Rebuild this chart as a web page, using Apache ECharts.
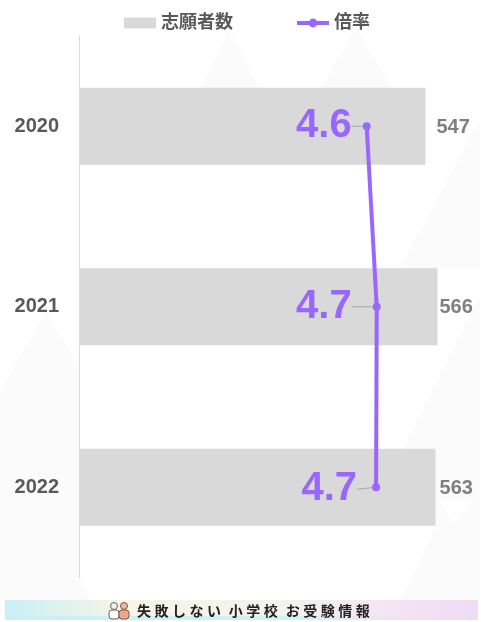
<!DOCTYPE html>
<html>
<head>
<meta charset="utf-8">
<style>
html, body { margin: 0; padding: 0; background: #fff; }
#chart { width: 481px; height: 622px; }
</style>
</head>
<body>
<div id="chart"></div>
<script src="https://cdn.jsdelivr.net/npm/echarts@6/dist/echarts.min.js"></script>
<script>
const years = ['2020', '2021', '2022'];
const applicants = [547, 566, 563];
const rates = [4.58, 4.74, 4.73];

const rateLabelGap = [7, 17, 11];
const rateLabelDrop = [0, 0, 2];
const countLabelGap = [11, 2, 4];

const FONT = '"Liberation Sans", "Noto Sans CJK JP", sans-serif';
const PURPLE = '#9966ff';

// pale mountains behind the plot
const hills = [
  [[200, 88], [229, 30], [259, 88]],
  [[322, 88], [356, 26], [391, 88]],
  [[0, 600], [0, 392], [46, 312], [80, 368], [80, 578], [88, 600]],
  [[400, 268], [480, 120], [480, 268]],
  [[480, 295], [403, 449], [436, 449], [436, 527], [400, 600], [480, 600]]
];
const notch = [[439, 500], [472, 500], [455, 525]];

const myChart = echarts.init(document.getElementById('chart'));

const bgHills = hills.map(function (points) {
  return {
    type: 'polygon',
    silent: true,
    z: -10,
    shape: { points: points },
    style: { fill: '#fbfbfb' }
  };
});
bgHills.push({
  type: 'polygon',
  silent: true,
  z: -9,
  shape: { points: notch },
  style: { fill: '#ffffff' }
});

const banner = [
  {
    type: 'rect',
    silent: true,
    shape: { x: 5, y: 600, width: 473, height: 20 },
    style: {
      fill: new echarts.graphic.LinearGradient(0, 0, 1, 0, [
        { offset: 0, color: '#c9f0f6' },
        { offset: 0.25, color: '#f8f4e6' },
        { offset: 0.6, color: '#f4f2ee' },
        { offset: 0.85, color: '#f3e2f4' },
        { offset: 1, color: '#eedcf5' }
      ])
    }
  },
  {
    type: 'rect',
    silent: true,
    shape: { x: 5, y: 616, width: 473, height: 4 },
    style: {
      fill: new echarts.graphic.LinearGradient(0, 0, 1, 0, [
        { offset: 0, color: '#c9f0f6' },
        { offset: 0.6, color: '#cff2f6' },
        { offset: 0.85, color: '#f3e2f4' },
        { offset: 1, color: '#eedcf5' }
      ])
    }
  },
  { type: 'circle', silent: true, shape: { cx: 114, cy: 606, r: 3.5 }, style: { fill: '#f4efe6', stroke: '#666', lineWidth: 1 } },
  { type: 'rect', silent: true, shape: { x: 109, y: 610, width: 10, height: 9, r: 3 }, style: { fill: '#ffffff', stroke: '#666', lineWidth: 1 } },
  { type: 'circle', silent: true, shape: { cx: 124, cy: 606, r: 3.5 }, style: { fill: '#e7b7a0', stroke: '#885544', lineWidth: 1 } },
  { type: 'rect', silent: true, shape: { x: 119, y: 610, width: 10, height: 9, r: 3 }, style: { fill: '#e9a98c', stroke: '#885544', lineWidth: 1 } },
  {
    type: 'text',
    silent: true,
    style: {
      x: 137,
      y: 610.5,
      text: '失\u2005敗\u2005し\u2005な\u2005い\u2002\u200a小\u2005学\u2005校\u2002\u200aお\u2005受\u2005験\u2005情\u2005報',
      font: 'bold 14px "Noto Sans CJK JP"',
      fill: '#222222',
      verticalAlign: 'middle'
    }
  }
];

const options = {
  animation: false,
  backgroundColor: '#ffffff',
  textStyle: { fontFamily: FONT },
  legend: {
    left: 119,
    top: 9,
    itemWidth: 32,
    itemHeight: 11,
    itemGap: 62,
    data: [
      { name: '志願者数', icon: 'rect' },
      { name: '倍率', lineStyle: { width: 4 } }
    ],
    textStyle: { fontSize: 18, fontWeight: 'bold', color: '#595959', fontFamily: FONT }
  },
  grid: { left: 79, top: 36, width: 380, height: 541.5 },
  xAxis: [
    { type: 'value', min: 0, max: 600, show: false },
    { type: 'value', min: 0, max: 6.05, show: false }
  ],
  yAxis: {
    type: 'category',
    inverse: true,
    data: years,
    axisLine: { show: true, lineStyle: { color: '#d9d9d9', width: 1 } },
    axisTick: { show: false },
    splitLine: { show: false },
    axisLabel: { fontSize: 20, fontWeight: 'bold', color: '#595959', margin: 20, fontFamily: FONT }
  },
  series: [
    {
      name: '志願者数',
      type: 'bar',
      data: applicants,
      barWidth: 77,
      xAxisIndex: 0,
      itemStyle: { color: '#d9d9d9' },
      label: {
        show: true,
        position: 'right',
        distance: 0,
        fontSize: 20,
        fontWeight: 'bold',
        color: '#7f7f7f',
        fontFamily: FONT
      },
      labelLayout: function (params) {
        return { dx: countLabelGap[params.dataIndex], dy: 1 };
      }
    },
    {
      name: '倍率',
      type: 'line',
      data: rates,
      xAxisIndex: 1,
      symbol: 'circle',
      symbolSize: 8,
      lineStyle: { color: PURPLE, width: 4 },
      itemStyle: { color: PURPLE },
      label: {
        show: true,
        position: 'left',
        distance: 0,
        padding: [0, 4, 0, 0],
        fontSize: 40,
        fontWeight: 'bold',
        color: PURPLE,
        fontFamily: FONT,
        formatter: function (params) {
          return params.value.toFixed(1);
        }
      },
      labelLayout: function (params) {
        return { dx: -rateLabelGap[params.dataIndex], dy: rateLabelDrop[params.dataIndex] };
      },
      labelLine: { show: true, lineStyle: { color: '#a6a6a6', width: 1 } }
    }
  ],
  graphic: { elements: bgHills.concat(banner) }
};

myChart.setOption(options);
</script>
</body>
</html>
